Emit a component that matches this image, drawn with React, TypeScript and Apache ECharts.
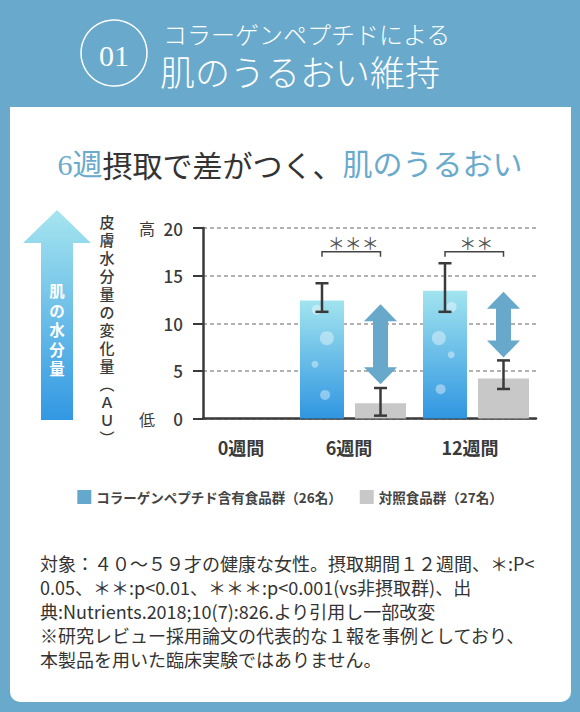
import { useEffect, useRef } from "react";
import * as echarts from "echarts";

const categories = ["0週間", "6週間", "12週間"];
const seriesNames = ["コラーゲンペプチド含有食品群（26名）", "対照食品群（27名）"];
const collagenValues = ["-", 12.4, 13.4];
const collagenErrLow = [null, 11.2, 11.2];
const collagenErrHigh = [null, 14.2, 16.3];
const controlValues = ["-", 1.6, 4.2];
const controlErrLow = [null, 0.3, 3.1];
const controlErrHigh = [null, 3.2, 6.1];
const diffArrowTop = [null, 12.0, 13.3];
const diffArrowBottom = [null, 3.6, 6.4];
const significance = ["", "＊＊＊", "＊＊"];
const bracketLevel = [null, 17.5, 17.5];
const yEndLabels: Record<number, string> = { 0: "低", 20: "高" };
const yTitle = "皮膚水分量の変化量︵ＡＵ︶";
const arrowTitle = "肌の水分量";
const footnote = [
  "対象：４０～５９才の健康な女性。摂取期間１２週間、＊:P<",
  "0.05、＊＊:p<0.01、＊＊＊:p<0.001(vs非摂取群)、出",
  "典:Nutrients.2018;10(7):826.より引用し一部改変",
  "※研究レビュー採用論文の代表的な１報を事例としており、",
  "本製品を用いた臨床実験ではありません。",
];

// bar layout (px)
const BLUE_W = 44;
const GRAY_W = 51;
const GAP = 11;
const GROUP = BLUE_W + GAP + GRAY_W;
const BLUE_OFF = -GROUP / 2 + BLUE_W / 2;
const GRAY_OFF = GROUP / 2 - GRAY_W / 2;

// decorative bubbles inside the blue bars: [fx, fy, r]
const bubbles: Record<number, number[][]> = {
  1: [[0.38, 0.08, 5], [0.61, 0.32, 7], [0.34, 0.54, 3.5], [0.57, 0.8, 5]],
  2: [[0.65, 0.125, 5], [0.36, 0.37, 7], [0.64, 0.5, 3.5], [0.4, 0.77, 5]],
};

const BG = "#68a9cc";
const DARK = "#3a3a3a";
const JP = "'Noto Sans CJK JP', sans-serif";

const idx = [1, 2];
const vertical = (s: string) => Array.from(s).join("\n");

const errorSeries = (lo: (number | null)[], hi: (number | null)[], off: number) => ({
  type: "custom",
  xAxisIndex: 1,
  yAxisIndex: 1,
  z: 5,
  silent: true,
  data: idx.map((i) => [i, lo[i], hi[i]]),
  renderItem: (_p: any, api: any) => {
    const a = api.coord([api.value(0), api.value(1)]);
    const b = api.coord([api.value(0), api.value(2)]);
    const x = a[0] + off;
    const st = { stroke: DARK, lineWidth: 2.5 };
    return {
      type: "group",
      children: [
        { type: "line", shape: { x1: x, y1: a[1], x2: x, y2: b[1] }, style: st },
        { type: "line", shape: { x1: x - 6.5, y1: a[1], x2: x + 6.5, y2: a[1] }, style: st },
        { type: "line", shape: { x1: x - 6.5, y1: b[1], x2: x + 6.5, y2: b[1] }, style: st },
      ],
    };
  },
});

const option: any = {
  animation: false,
  backgroundColor: BG,
  textStyle: { fontFamily: JP },
  legend: {
    top: 490,
    left: "center",
    padding: 0,
    itemWidth: 14,
    itemHeight: 14,
    itemGap: 18,
    icon: "rect",
    selectedMode: false,
    textStyle: { fontSize: 13.5, fontWeight: "bold", color: "#444", fontFamily: JP },
    data: [
      { name: seriesNames[0], itemStyle: { color: "#64a8cc" } },
      { name: seriesNames[1], itemStyle: { color: "#c8c8c8" } },
    ],
  },
  grid: [
    { left: 203, right: 44, top: 228, bottom: 293.5 },
    { left: 168.5, right: 42.5, top: 228, bottom: 293.5 },
  ],
  xAxis: [
    {
      type: "category",
      gridIndex: 0,
      data: categories,
      axisLine: { lineStyle: { color: DARK, width: 2.5 } },
      axisTick: { show: false },
      axisLabel: { show: false },
    },
    {
      type: "category",
      gridIndex: 1,
      data: categories,
      axisLine: { show: false },
      axisTick: { show: false },
      axisLabel: {
        margin: 19,
        formatter: (v: string, i: number) => `{l${i}|${v}}`,
        rich: {
          l0: { fontSize: 18, fontWeight: "bold", color: DARK, fontFamily: JP, padding: [0, 0, 0, 22] },
          l1: { fontSize: 18, fontWeight: "bold", color: DARK, fontFamily: JP, padding: [0, 8, 0, 0] },
          l2: { fontSize: 18, fontWeight: "bold", color: DARK, fontFamily: JP, padding: [0, 12, 0, 0] },
        },
      },
    },
  ],
  yAxis: [
    {
      type: "value",
      gridIndex: 0,
      min: 0,
      max: 20,
      interval: 5,
      axisLine: { show: true, lineStyle: { color: DARK, width: 2.5 } },
      axisTick: { show: true, length: 10, lineStyle: { color: DARK, width: 2 } },
      splitLine: { lineStyle: { color: "#999", width: 1.5, type: [4, 3] } },
      axisLabel: {
        margin: 20,
        formatter: (v: number) =>
          yEndLabels[v] !== undefined ? `{m|${yEndLabels[v]}}{n|${v}}` : `{n|${v}}`,
        rich: {
          m: { fontSize: 16, color: DARK, fontFamily: JP, width: 22, align: "left" },
          n: { fontSize: 17, fontWeight: 500, color: DARK, fontFamily: JP, width: 22, align: "right" },
        },
      },
    },
    { type: "value", gridIndex: 1, min: 0, max: 20, interval: 5, show: false },
  ],
  series: [
    {
      name: seriesNames[0],
      type: "bar",
      xAxisIndex: 1,
      yAxisIndex: 1,
      barWidth: BLUE_W,
      barGap: `${(GAP / BLUE_W) * 100}%`,
      data: collagenValues,
      itemStyle: {
        color: new echarts.graphic.LinearGradient(0, 0, 0, 1, [
          { offset: 0, color: "#a2e4ef" },
          { offset: 1, color: "#3096e1" },
        ]),
      },
    },
    {
      name: seriesNames[1],
      type: "bar",
      xAxisIndex: 1,
      yAxisIndex: 1,
      barWidth: GRAY_W,
      data: controlValues,
      itemStyle: { color: "#c8c8c8" },
    },
    {
      type: "custom",
      xAxisIndex: 1,
      yAxisIndex: 1,
      z: 4,
      silent: true,
      data: idx.map((i) => [i, collagenValues[i]]),
      renderItem: (_p: any, api: any) => {
        const i = api.value(0);
        const top = api.coord([i, api.value(1)]);
        const bot = api.coord([i, 0]);
        const left = top[0] + BLUE_OFF - BLUE_W / 2;
        const h = bot[1] - top[1];
        return {
          type: "group",
          children: (bubbles[i] || []).map(([fx, fy, r]) => ({
            type: "circle",
            shape: { cx: left + fx * BLUE_W, cy: top[1] + fy * h, r },
            style: { fill: "rgba(255,255,255,0.4)" },
          })),
        };
      },
    },
    errorSeries(collagenErrLow, collagenErrHigh, BLUE_OFF),
    errorSeries(controlErrLow, controlErrHigh, GRAY_OFF),
    {
      type: "custom",
      xAxisIndex: 1,
      yAxisIndex: 1,
      z: 4,
      silent: true,
      data: idx.map((i) => [i, diffArrowTop[i], diffArrowBottom[i]]),
      renderItem: (_p: any, api: any) => {
        const a = api.coord([api.value(0), api.value(1)]);
        const b = api.coord([api.value(0), api.value(2)]);
        const x = a[0] + GRAY_OFF;
        const t = a[1];
        const d = b[1];
        const hh = 17;
        const hw = 16.5;
        const sw = 7.5;
        return {
          type: "polygon",
          shape: {
            points: [
              [x, t], [x + hw, t + hh], [x + sw, t + hh], [x + sw, d - hh], [x + hw, d - hh],
              [x, d], [x - hw, d - hh], [x - sw, d - hh], [x - sw, t + hh], [x - hw, t + hh],
            ],
          },
          style: { fill: "#67a8cb" },
        };
      },
    },
    {
      type: "custom",
      xAxisIndex: 1,
      yAxisIndex: 1,
      z: 4,
      silent: true,
      data: idx.map((i) => [i, bracketLevel[i]]),
      renderItem: (_p: any, api: any) => {
        const i = api.value(0);
        const p = api.coord([i, api.value(1)]);
        const x1 = p[0] + BLUE_OFF;
        const x2 = p[0] + GRAY_OFF;
        const y = p[1];
        return {
          type: "group",
          children: [
            {
              type: "polyline",
              shape: { points: [[x1, y + 5], [x1, y], [x2, y], [x2, y + 5]] },
              style: { stroke: "#444", lineWidth: 1.5, fill: "none" },
            },
            {
              type: "text",
              style: {
                text: significance[i],
                x: (x1 + x2) / 2 + 2,
                y: y - 9,
                align: "center",
                verticalAlign: "middle",
                fontSize: 17,
                fontFamily: JP,
                fill: "#555",
              },
            },
          ],
        };
      },
    },
  ],
  graphic: [
    {
      type: "rect",
      z: -10,
      shape: { x: 10, y: 107, width: 561, height: 595, r: [0, 0, 10, 10] },
      style: { fill: "#fff" },
    },
    {
      type: "circle",
      shape: { cx: 114, cy: 53, r: 33 },
      style: { stroke: "#fff", lineWidth: 1.5, fill: "none" },
    },
    {
      type: "text",
      style: {
        text: "01",
        x: 114,
        y: 55,
        align: "center",
        verticalAlign: "middle",
        fill: "#fff",
        fontSize: 30,
        fontFamily: "'Liberation Serif', serif",
      },
    },
    {
      type: "text",
      style: {
        text: "コラーゲンペプチドによる",
        x: 163,
        y: 33,
        verticalAlign: "middle",
        fill: "#fff",
        fontSize: 24,
        fontWeight: 300,
        fontFamily: JP,
      },
    },
    {
      type: "text",
      style: {
        text: "肌のうるおい維持",
        x: 160,
        y: 70,
        verticalAlign: "middle",
        fill: "#fff",
        fontSize: 35,
        fontWeight: 300,
        fontFamily: JP,
      },
    },
    {
      type: "text",
      style: {
        text: "{b|6週}{d|摂取で差がつく、}{b|肌のうるおい}",
        x: 290,
        y: 164,
        align: "center",
        verticalAlign: "middle",
        rich: {
          b: { fontSize: 30, fill: "#6aaacd", fontFamily: "'Liberation Serif', 'Noto Sans CJK JP', serif" },
          d: { fontSize: 30, fill: "#333", fontFamily: JP },
        },
      },
    },
    {
      type: "polygon",
      shape: {
        points: [[57, 210], [91, 243], [73, 243], [73, 420], [41, 420], [41, 243], [23, 243]],
      },
      style: {
        fill: new echarts.graphic.LinearGradient(0, 0, 0, 1, [
          { offset: 0, color: "#a6e5ef" },
          { offset: 1, color: "#3298e2" },
        ]),
      },
    },
    {
      type: "text",
      style: {
        text: vertical(arrowTitle),
        x: 57,
        y: 329,
        align: "center",
        verticalAlign: "middle",
        lineHeight: 19.5,
        fill: "#fff",
        fontSize: 15.5,
        fontWeight: "bold",
        fontFamily: JP,
      },
    },
    {
      type: "text",
      style: {
        text: vertical(yTitle),
        x: 107,
        y: 212,
        align: "center",
        verticalAlign: "top",
        lineHeight: 18,
        fill: DARK,
        fontSize: 15,
        fontWeight: 500,
        fontFamily: JP,
      },
    },
    ...footnote.map((line, i) => ({
      type: "text",
      style: {
        text: line,
        x: 40,
        y: 563 + i * 24,
        verticalAlign: "middle",
        fill: "#333",
        fontSize: 18,
        fontFamily: JP,
      },
    })),
  ],
};

const App = () => {
  const chartRef = useRef<HTMLDivElement>(null);

  useEffect(() => {
    document.body.style.margin = "0";
    if (!chartRef.current) return;
    const chart = echarts.init(chartRef.current, null, { renderer: "svg" });
    chart.setOption(option);
    return () => {
      chart.dispose();
    };
  }, []);

  return <div ref={chartRef} style={{ width: 580, height: 712 }}></div>;
};

export default App;
